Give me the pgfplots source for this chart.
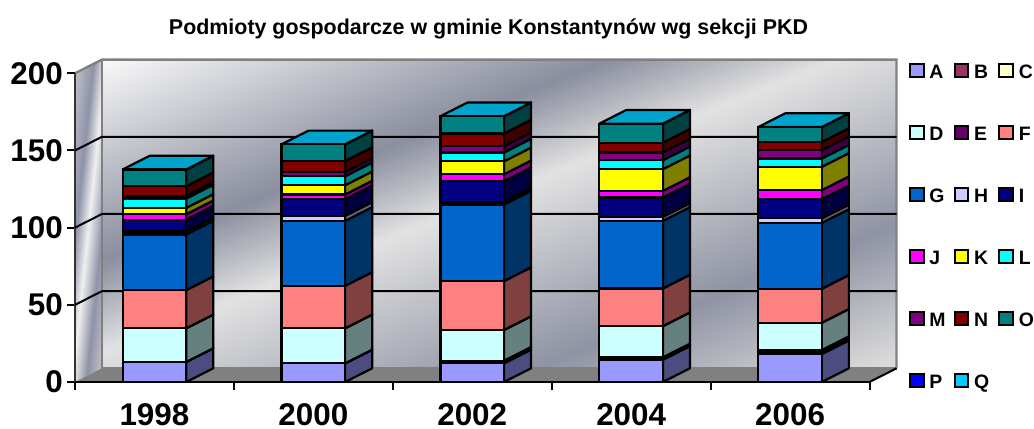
\documentclass[border=0pt]{standalone}
\usepackage{pgfplots}
\usepackage{pgfplotstable}
\usepackage{fontspec}
\setmainfont{Liberation Sans}
\pgfplotsset{compat=1.18}
\definecolor{serA}{HTML}{9999FF}\definecolor{serB}{HTML}{993366}\definecolor{serC}{HTML}{FFFFCC}
\definecolor{serD}{HTML}{CCFFFF}\definecolor{serE}{HTML}{660066}\definecolor{serF}{HTML}{FF8080}
\definecolor{serG}{HTML}{0066CC}\definecolor{serH}{HTML}{CCCCFF}\definecolor{serI}{HTML}{000080}
\definecolor{serJ}{HTML}{FF00FF}\definecolor{serK}{HTML}{FFFF00}\definecolor{serL}{HTML}{00FFFF}
\definecolor{serM}{HTML}{800080}\definecolor{serN}{HTML}{800000}\definecolor{serO}{HTML}{008080}
\definecolor{serP}{HTML}{0000FF}\definecolor{serQ}{HTML}{00CCFF}
\definecolor{wa}{HTML}{F8F8F8}\definecolor{wb}{HTML}{8A8E9E}\definecolor{wc}{HTML}{E2E2E2}
\definecolor{wd}{HTML}{8F93A3}\definecolor{we}{HTML}{DADADA}
\definecolor{sa}{HTML}{E0E0E0}\definecolor{sb}{HTML}{8F93A8}\definecolor{sc}{HTML}{F0F0F0}\definecolor{sd}{HTML}{C0C0C8}
\pgfdeclareverticalshading{wallshade}{1200bp}{color(0bp)=(we);color(10bp)=(we);color(134bp)=(wd);color(309bp)=(wc);color(394bp)=(wb);color(580bp)=(wa);color(590bp)=(wa)}
\pgfdeclarehorizontalshading{sideshade}{500bp}{color(0bp)=(sa);color(30bp)=(sb);color(42bp)=(sc);color(56bp)=(sb);color(70bp)=(sd)}
\pgfplotstableread{
x   A    B   C   D    E   F    G    H   I    J   K    L   M   N   O    P Q
0.5 13.0 0.0 0.0 21.8 0.0 24.7 36.1 1.9 7.7  3.5 4.1  6.1 1.7 6.3 10.8 0 0
1.5 12.1 0.0 0.0 22.7 0.0 27.5 42.1 3.2 10.8 3.1 6.0  5.8 2.8 7.1 10.8 0 0
2.5 12.1 1.0 0.7 19.9 0.0 31.7 49.6 1.7 13.4 4.5 8.4  5.7 4.1 8.2 11.2 0 0
3.5 14.4 0.8 0.8 20.2 0.0 24.4 43.8 2.6 12.5 4.3 14.1 5.8 5.0 6.4 12.3 0 0
4.5 18.1 1.3 1.3 17.7 0.0 22.0 42.7 2.9 12.4 5.9 15.1 5.4 5.4 5.3 9.7  0 0
}\stacktable
% side and top faces of the bars, worked out from the table
\gdef\sideplots{}
\foreach \rw in {0,...,4}{%
  \gdef\cum{0}%
  \pgfmathsetmacro\xa{\rw+0.7}%
  \pgfmathsetmacro\xb{\rw+0.87}%
  \pgfmathsetmacro\xc{\rw+0.3}%
  \pgfmathsetmacro\xd{\rw+0.47}%
  \foreach \col in {A,B,C,D,E,F,G,H,I,J,K,L,M,N,O,P,Q}{%
    \pgfplotstablegetelem{\rw}{\col}\of\stacktable
    \pgfmathsetmacro\nxt{\cum+\pgfplotsretval}%
    \pgfmathsetmacro\cumb{\cum+8.87}%
    \pgfmathsetmacro\nxtb{\nxt+8.87}%
    \edef\tmp{\noexpand\addplot[fill=ser\col!50!black,draw=black,line width=2.2bp,line join=round,forget plot] coordinates {(\xa,\cum)(\xb,\cumb)(\xb,\nxtb)(\xa,\nxt)(\xa,\cum)};}%
    \xdef\sideplots{\unexpanded\expandafter{\sideplots}\unexpanded\expandafter{\tmp}}%
    \xdef\cum{\nxt}%
  }%
  \pgfmathsetmacro\cumb{\cum+8.87}%
  \edef\tmp{\noexpand\addplot[fill=serQ!80!black,draw=black,line width=2.2bp,line join=round,forget plot] coordinates {(\xc,\cum)(\xa,\cum)(\xb,\cumb)(\xd,\cumb)(\xc,\cum)};}%
  \xdef\sideplots{\unexpanded\expandafter{\sideplots}\unexpanded\expandafter{\tmp}}%
}
\pgfplotsset{base/.style={at={(75bp,46bp)},anchor=origin,
  width=794.5bp,height=308.7bp,scale only axis,
  xmin=0,xmax=5,ymin=0,ymax=200,clip=false}}
\begin{document}
\begin{tikzpicture}[x=1bp,y=1bp]
\useasboundingbox (0,0) rectangle (1034,428);
% back wall
\begin{scope}
\clip (102,59.5) rectangle (896.7,368);
\pgftext[left,bottom,at={\pgfpoint{59.7bp}{-273.5bp}},rotate=21.7]{\pgfuseshading{wallshade}}
\end{scope}
% left wall
\begin{scope}
\clip (75,46) -- (102,59.5) -- (102,368) -- (75,354.7) -- cycle;
\pgftext[left,bottom,at={\pgfpoint{24bp}{-8.7bp}},rotate=-6]{\pgfuseshading{sideshade}}
\end{scope}
\begin{axis}[base,hide axis]
\end{axis}
% wall edges
\begin{axis}[base,hide axis]
\addplot[black!50,line width=2.4bp,forget plot] coordinates {(0,200)(0.17,208.87)(5.17,208.87)(5.17,8.87)};
\addplot[black!50,line width=2.4bp,forget plot] coordinates {(0.17,208.87)(0.17,8.87)(5.17,8.87)};
\end{axis}
\begin{axis}[base,
  axis x line*=bottom,axis y line*=left,
  axis line style={-,black!80,line width=2bp},
  tick style={black,line width=2bp},
  tick align=outside,major tick length=8bp,
  xtick={0,1,2,3,4,5},xticklabels={},
  extra x ticks={0.5,1.5,2.5,3.5,4.5},
  extra x tick labels={1998,2000,2002,2004,2006},
  extra x tick style={major tick length=0pt,tick style={draw=none}},
  ytick={0,50,100,150,200},
  /pgf/number format/assume math mode=true,
  tick label style={font=\bfseries\fontsize{31.5}{32}\selectfont},
  x tick label style={yshift=-18.5bp},
  y tick label style={inner sep=1bp,xshift=-3bp},
  title={Podmioty gospodarcze w gminie Konstantynów wg sekcji PKD},
  title style={at={(0.5205,1.124)},anchor=center,font=\bfseries\fontsize{21.5}{24}\selectfont},
]
% floor
\addplot[fill=black!50,draw=none,forget plot] coordinates {(0,0)(5,0)(5.17,8.87)(0.17,8.87)(0,0)};
% grid lines
\addplot[black,line width=2bp,forget plot] coordinates {(0,50)(0.17,58.87)(5.17,58.87)};
\addplot[black,line width=2bp,forget plot] coordinates {(0,100)(0.17,108.87)(5.17,108.87)};
\addplot[black,line width=2bp,forget plot] coordinates {(0,150)(0.17,158.87)(5.17,158.87)};
\addplot[black,line width=2bp,forget plot] coordinates {(5,0)(5.17,8.87)};
\addplot[black,line width=2bp,forget plot] coordinates {(0,0)(5,0)};
\end{axis}
\begin{axis}[base,hide axis]
\sideplots
\end{axis}
\begin{axis}[base,
  hide axis,
  ybar stacked,bar width=0.4,
  legend columns=3,
  legend cell align=left,
  legend style={at={(1.0497,1.034)},anchor=north west,draw=none,fill=none,inner sep=0pt,outer sep=0pt,
    font=\bfseries\fontsize{19.5}{19.5}\selectfont,row sep=43bp,
    /tikz/column 1/.style={column sep=3bp},/tikz/column 3/.style={column sep=3bp},/tikz/column 5/.style={column sep=3bp},
    /tikz/column 2/.style={column sep=6bp},/tikz/column 4/.style={column sep=7bp}},
  every axis plot/.append style={draw=black,line width=2.2bp},
  lg/.style={/pgfplots/legend image code/.code={\draw[##1,line width=2bp,draw=black] (0bp,-5bp) rectangle (13.5bp,8.5bp);}},
]
\addplot[fill=serA,lg] table[x=x,y=A]{\stacktable};
\addplot[fill=serB,lg] table[x=x,y=B]{\stacktable};
\addplot[fill=serC,lg] table[x=x,y=C]{\stacktable};
\addplot[fill=serD,lg] table[x=x,y=D]{\stacktable};
\addplot[fill=serE,lg] table[x=x,y=E]{\stacktable};
\addplot[fill=serF,lg] table[x=x,y=F]{\stacktable};
\addplot[fill=serG,lg] table[x=x,y=G]{\stacktable};
\addplot[fill=serH,lg] table[x=x,y=H]{\stacktable};
\addplot[fill=serI,lg] table[x=x,y=I]{\stacktable};
\addplot[fill=serJ,lg] table[x=x,y=J]{\stacktable};
\addplot[fill=serK,lg] table[x=x,y=K]{\stacktable};
\addplot[fill=serL,lg] table[x=x,y=L]{\stacktable};
\addplot[fill=serM,lg] table[x=x,y=M]{\stacktable};
\addplot[fill=serN,lg] table[x=x,y=N]{\stacktable};
\addplot[fill=serO,lg] table[x=x,y=O]{\stacktable};
\addplot[fill=serP,lg] table[x=x,y=P]{\stacktable};
\addplot[fill=serQ,lg] table[x=x,y=Q]{\stacktable};
\legend{A,B,C,D,E,F,G,H,I,J,K,L,M,N,O,P,Q}
\end{axis}
\end{tikzpicture}
\end{document}
